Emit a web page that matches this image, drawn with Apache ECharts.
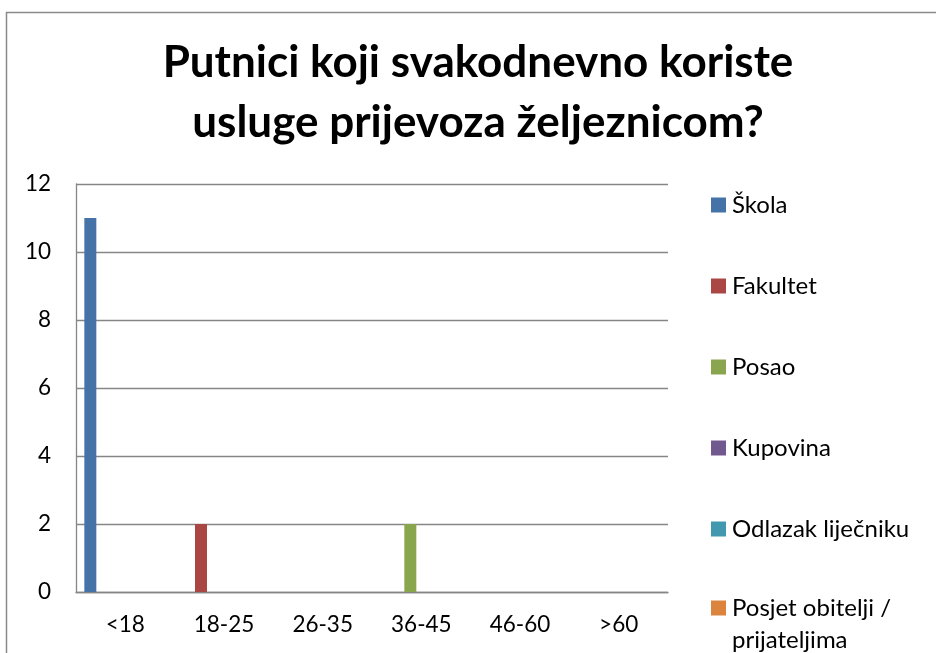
<!DOCTYPE html>
<html>
<head>
<meta charset="utf-8">
<script src="https://cdn.jsdelivr.net/npm/echarts@6/dist/echarts.min.js"></script>
<style>
  html, body { margin: 0; padding: 0; background: #fff; }
  #chart { width: 936px; height: 653px; }
</style>
</head>
<body>
<div id="chart"></div>
<script>
const categories = ['<18', '18-25', '26-35', '36-45', '46-60', '>60'];
const seriesNames = ['Škola', 'Fakultet', 'Posao', 'Kupovina', 'Odlazak liječniku', 'Posjet obitelji / prijateljima'];
const skola = [11, 0, 0, 0, 0, 0];
const fakultet = [0, 2, 0, 0, 0, 0];
const posao = [0, 0, 0, 2, 0, 0];
const kupovina = [0, 0, 0, 0, 0, 0];
const odlazak = [0, 0, 0, 0, 0, 0];
const posjet = [0, 0, 0, 0, 0, 0];
const colorList = ['#4572A7', '#AA4643', '#89A54E', '#71588F', '#4198AF', '#DB843D'];
const yTicks = { min: 0, max: 12, interval: 2 };

const dataList = [skola, fakultet, posao, kupovina, odlazak, posjet];

const setSeries = (name, arr, color) => {
  return {
    name: name,
    type: 'bar',
    barWidth: 12,
    barGap: 0,
    data: arr,
    itemStyle: { color: color },
    emphasis: { disabled: true }
  }
}

const chartBox = echarts.init(document.getElementById('chart'));

let seriesArr = [];
for (let i = 0; i < dataList.length; i++) {
  seriesArr.push(setSeries(seriesNames[i], dataList[i], colorList[i]));
}
// empty slot at the end of each group, keeps the bars left of centre as in the original
seriesArr.push({ name: 'spacer', type: 'bar', barWidth: 10, barGap: 0, data: categories.map(() => null), silent: true });

const legendBase = {
  orient: 'vertical',
  left: 711,
  padding: 0,
  itemWidth: 15,
  itemHeight: 15,
  itemGap: 57,
  icon: 'rect',
  selectedMode: false,
  textStyle: { fontFamily: 'Lato', fontSize: 24, lineHeight: 24, color: '#000', padding: [0, 0, 0, 1] }
};

const option = {
  backgroundColor: '#fff',
  animation: false,
  title: {
    text: 'Putnici koji svakodnevno koriste\nusluge prijevoza željeznicom?',
    left: 478,
    textAlign: 'center',
    top: 33,
    padding: 0,
    textStyle: { fontFamily: 'Lato', fontWeight: 'bold', fontSize: 44, lineHeight: 60, color: '#000' }
  },
  legend: [
    Object.assign({}, legendBase, { top: 193, data: seriesNames.slice(0, 5) }),
    // two-line entry: blank line on top so the first line sits level with the marker
    Object.assign({}, legendBase, {
      top: 560,
      textStyle: { fontFamily: 'Lato', fontSize: 24, lineHeight: 32, color: '#000', padding: [0, 0, 0, 1] },
      formatter: (name) => '\n' + name.replace(' / ', ' /\n'),
      data: [seriesNames[5]]
    })
  ],
  grid: { left: 76, right: 268, top: 184, bottom: 61, containLabel: false },
  xAxis: {
    type: 'category',
    data: categories,
    axisLine: { lineStyle: { color: '#868686', width: 1.3 } },
    axisTick: { show: false },
    axisLabel: { fontFamily: 'Lato', fontSize: 22.5, color: '#000', margin: 21 }
  },
  yAxis: {
    type: 'value',
    min: yTicks.min,
    max: yTicks.max,
    interval: yTicks.interval,
    axisLine: { show: true, lineStyle: { color: '#868686', width: 1.3 } },
    axisTick: { show: false },
    axisLabel: { fontFamily: 'Lato', fontSize: 22.5, color: '#000', margin: 25 },
    splitLine: { show: true, lineStyle: { color: '#868686', width: 1.3 } }
  },
  graphic: [{
    type: 'rect',
    shape: { x: 6.5, y: 12.5, width: 960, height: 700 },
    style: { fill: null, stroke: '#8a8a8a', lineWidth: 1.5 },
    silent: true,
    z: 100
  }],
  series: seriesArr
};

chartBox.setOption(option);
</script>
</body>
</html>
